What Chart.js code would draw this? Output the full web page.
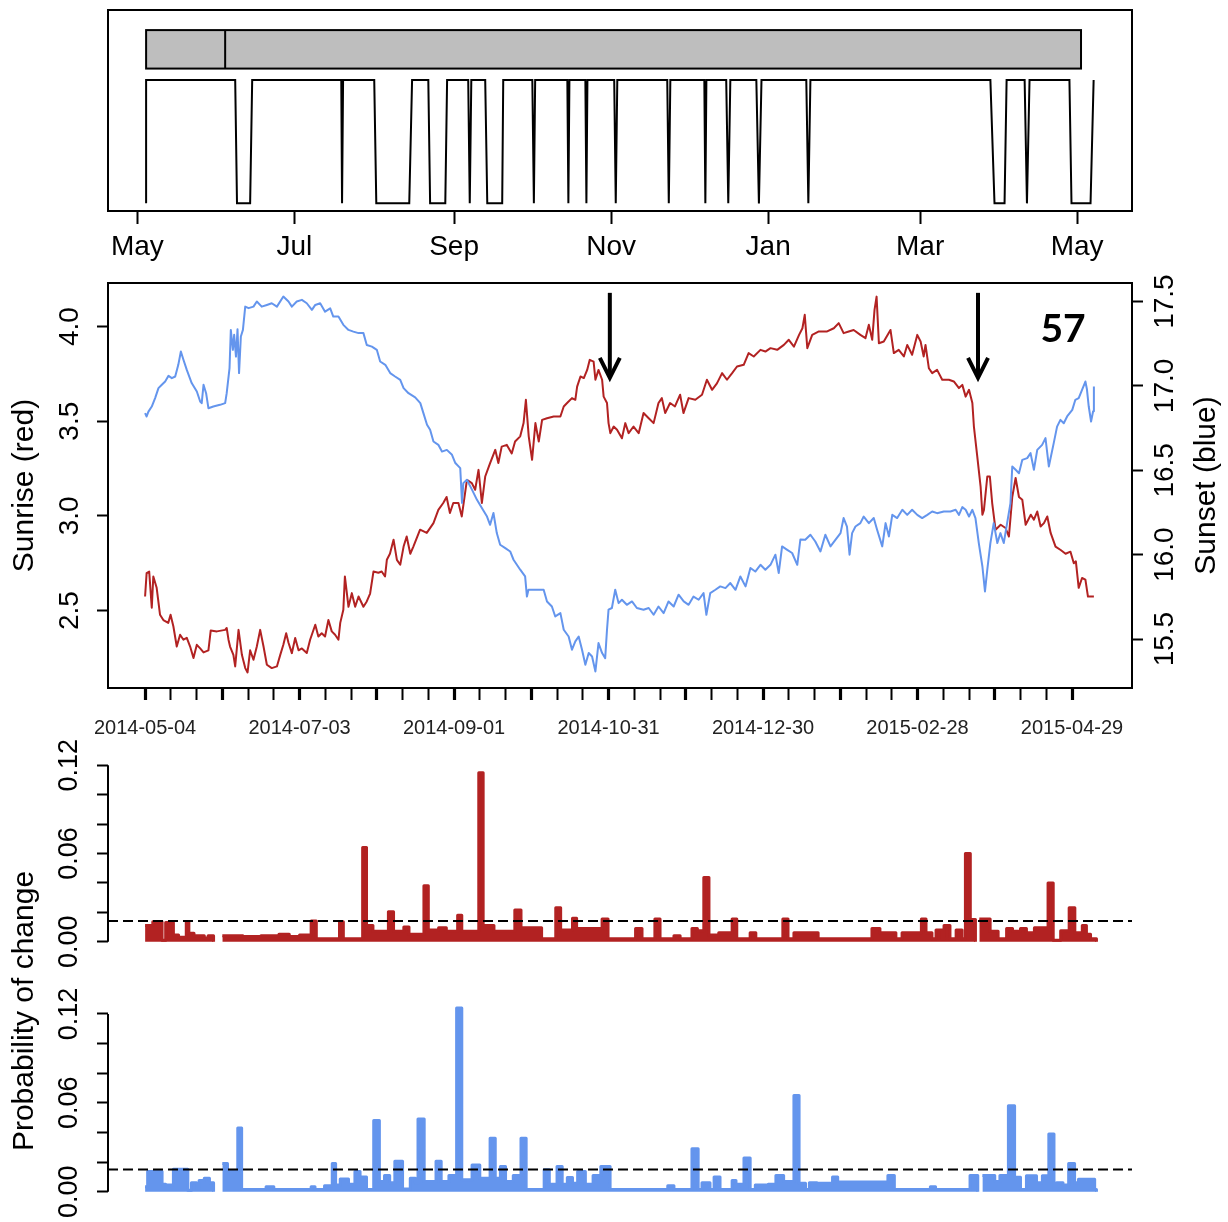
<!DOCTYPE html>
<html>
<head>
<meta charset="utf-8">
<script src="https://cdn.jsdelivr.net/npm/chart.js@4.4.1/dist/chart.umd.min.js"></script>
<style>
  html, body { margin: 0; padding: 0; background: #fff; }
  #wrap { position: relative; width: 1228px; height: 1222px; }
  #wrap canvas { position: absolute; left: 0; top: 0; }
</style>
</head>
<body>
<div id="wrap">
  <canvas id="activity" width="1228" height="1222"></canvas>
  <canvas id="sun" width="1228" height="1222"></canvas>
  <canvas id="probRed" width="1228" height="1222"></canvas>
  <canvas id="probBlue" width="1228" height="1222"></canvas>
</div>
<script>
// x values everywhere are days since 2014-05-04

// --- top panel: month axis + recording bar + on/off trace
const monthTickDays = [-3, 58, 120, 181, 242, 301, 362];
const monthTickLabels = ['May', 'Jul', 'Sep', 'Nov', 'Jan', 'Mar', 'May'];

const recordStart = 0.4, recordEnd = 363.5, recordSplit = 31.1;
const recordLow = 1.093, recordHigh = 1.405;

const activityDay = [0.4, 0.4, 35.0, 35.7, 40.8, 41.6, 76.2, 76.5, 76.9, 89.0,
  89.8, 102.6, 103.7, 110.0, 110.7, 116.6, 117.3, 125.5, 126.1, 126.7,
  132.1, 132.9, 138.7, 139.1, 150.4, 151.0, 151.5, 164.0, 164.4, 164.8,
  171.0, 171.4, 171.8, 182.2, 182.8, 183.4, 202.8, 203.4, 204.0, 217.2,
  217.6, 218.0, 225.7, 226.5, 227.3, 237.4, 238.4, 239.4, 256.8, 257.6,
  258.4, 328.3, 329.9, 333.8, 334.6, 341.6, 342.5, 343.5, 359.0, 359.8,
  367.2, 368.4];
const activityVal = [0, 1, 1, 0, 0, 1, 1, 0, 1, 1,
  0, 0, 1, 1, 0, 0, 1, 1, 0, 1,
  1, 0, 0, 1, 1, 0, 1, 1, 0, 1,
  1, 0, 1, 1, 0, 1, 1, 0, 1, 1,
  0, 1, 1, 0, 1, 1, 0, 1, 1, 0,
  1, 1, 0, 0, 1, 1, 0, 1, 1, 0,
  0, 1];

// --- middle panel: sunrise (left axis) and sunset (right axis)
const dateTickDays = [0, 60, 120, 180, 240, 300, 360];
const dateTickLabels = ['2014-05-04', '2014-07-03', '2014-09-01', '2014-10-31', '2014-12-30', '2015-02-28', '2015-04-29'];
const sunriseTicks = [2.5, 3.0, 3.5, 4.0];
const sunriseTickLabels = ['2.5', '3.0', '3.5', '4.0'];
const sunsetTicks = [15.5, 16.0, 16.5, 17.0, 17.5];
const sunsetTickLabels = ['15.5', '16.0', '16.5', '17.0', '17.5'];

const sunriseDay = [
  0, 0.6, 1.6, 2.6, 3.2, 4.5, 5.8, 7.1, 9, 9.9,
  11, 12.3, 13.6, 14.9, 16.2, 17.5, 18.8, 20.1, 21.4, 22.7,
  24.6, 25.5, 27.9, 31.1, 31.7, 32.4, 33, 34.3, 35, 36.3,
  37.6, 38.9, 39.8, 40.8, 42.1, 43.4, 44.7, 46, 47.3, 49.2,
  51.2, 52.5, 53.7, 54.8, 55.7, 57, 58.3, 59.6, 60.9, 62.8,
  64.1, 66.1, 67.3, 68.6, 69.9, 71.2, 72.5, 73.8, 75.1, 75.8,
  77, 77.6, 79, 80.3, 81.6, 82.9, 84.8, 86.1, 87.4, 88.7,
  90.6, 91.9, 93.2, 93.9, 95.1, 96.5, 97.8, 99.1, 100.4, 101.6,
  103, 104.2, 106.8, 109.4, 112, 113.9, 115.8, 117.1, 118.4, 119.7,
  121.7, 123, 125, 126.9, 128.2, 129.5, 130.8, 132.1, 134, 136,
  137.2, 138.5, 140.5, 142.4, 143.7, 145.7, 147, 147.9, 149, 150.3,
  151.6, 152.9, 154.2, 156.1, 158.7, 161.3, 162.6, 163.9, 165.8, 167.1,
  167.8, 169.1, 170.4, 171.7, 172.7, 174.2, 174.9, 176.1, 177.5, 178.1,
  179.4, 180, 180.7, 182, 183.3, 185.2, 186.5, 187.8, 189.7, 191.7,
  193.6, 195.6, 197.5, 199.4, 200.7, 202, 203.9, 205.8, 207.8, 209.1,
  211.1, 213.7, 216.3, 218.2, 220.2, 222.1, 224.1, 226, 228, 229.9,
  232.5, 234.4, 236.4, 239, 240.9, 242.9, 245.5, 248.1, 250, 252,
  254, 255.3, 256.2, 257.2, 259.1, 261.7, 264.9, 267.5, 269.4, 271.3,
  273.3, 275.2, 277.8, 279.8, 281.1, 282.4, 283.3, 284.1, 285, 286.9,
  289.5, 290.8, 292.7, 294.7, 296, 297.9, 299.9, 301.2, 302.4, 303.1,
  304.4, 305.7, 307.6, 309.6, 312.2, 314.1, 316.1, 317.4, 318.7, 320,
  321.3, 321.9, 323.2, 324.5, 325.2, 325.8, 327.1, 328.1, 329, 330.3,
  332.3, 334.2, 335.5, 336.8, 338.1, 339.4, 340.7, 342, 344, 345.2,
  346.5, 347.8, 349.1, 350.4, 351.7, 353.6, 355.6, 357.5, 359.4, 360.7,
  361.5, 362.6, 363.9, 365.2, 366.2, 368.5];
const sunriseVal = [
  2.574, 2.698, 2.706, 2.515, 2.68, 2.62, 2.478, 2.45, 2.435, 2.478,
  2.416, 2.31, 2.372, 2.346, 2.356, 2.31, 2.249, 2.319, 2.30, 2.279,
  2.29, 2.395, 2.39, 2.398, 2.408, 2.346, 2.31, 2.266, 2.205, 2.398,
  2.266, 2.196, 2.173, 2.29, 2.24, 2.31, 2.398, 2.31, 2.214, 2.196,
  2.205, 2.266, 2.319, 2.38, 2.33, 2.275, 2.355, 2.29, 2.30, 2.276,
  2.346, 2.425, 2.363, 2.38, 2.363, 2.45, 2.39, 2.372, 2.346, 2.435,
  2.504, 2.68, 2.52, 2.592, 2.52, 2.574, 2.52, 2.548, 2.59, 2.706,
  2.70, 2.706, 2.68, 2.768, 2.80, 2.874, 2.768, 2.742, 2.838, 2.891,
  2.80, 2.838, 2.927, 2.91, 2.962, 3.032, 3.068, 3.10, 3.015, 3.068,
  3.068, 2.997, 3.19, 3.173, 3.138, 3.243, 3.068, 3.208, 3.279, 3.349,
  3.279, 3.366, 3.375, 3.33, 3.393, 3.42, 3.49, 3.613, 3.42, 3.296,
  3.49, 3.393, 3.507, 3.516, 3.525, 3.525, 3.578, 3.596, 3.622, 3.613,
  3.683, 3.736, 3.728, 3.771, 3.824, 3.815, 3.719, 3.771, 3.719, 3.63,
  3.596, 3.49, 3.437, 3.472, 3.455, 3.41, 3.49, 3.437, 3.472, 3.437,
  3.543, 3.516, 3.49, 3.596, 3.622, 3.543, 3.596, 3.578, 3.64, 3.543,
  3.622, 3.613, 3.64, 3.719, 3.666, 3.70, 3.754, 3.719, 3.754, 3.789,
  3.798, 3.86, 3.842, 3.877, 3.868, 3.886, 3.877, 3.903, 3.93, 3.894,
  3.956, 3.991, 4.062, 3.886, 3.956, 3.974, 3.974, 3.991, 4.018, 3.965,
  3.974, 3.982, 3.956, 3.939, 4.009, 3.93, 4.088, 4.158, 3.912, 3.921,
  3.982, 3.86, 3.877, 3.842, 3.903, 3.851, 3.956, 3.921, 3.842, 3.903,
  3.78, 3.754, 3.771, 3.719, 3.719, 3.71, 3.675, 3.692, 3.63, 3.666,
  3.596, 3.472, 3.314, 3.155, 3.006, 3.032, 3.208, 3.208, 3.068, 2.927,
  2.953, 2.936, 2.891, 3.10, 3.20, 3.10, 3.085, 2.953, 3.006, 2.98,
  3.023, 2.944, 2.962, 2.997, 2.91, 2.838, 2.82, 2.80, 2.811, 2.75,
  2.76, 2.62, 2.672, 2.663, 2.574, 2.574];

const sunsetDay = [
  0, 0.6, 1.3, 2.6, 3.9, 5.2, 6.5, 7.8, 9.1, 10.4,
  11.7, 12.9, 13.9, 14.9, 16.2, 18.1, 20.1, 21.4, 22, 22.7,
  23.7, 24.6, 26.5, 29.1, 31.1, 31.7, 32.8, 33.3, 34.1, 34.6,
  35.3, 35.9, 36.5, 37.2, 38, 38.9, 40.2, 42.1, 43.4, 45.3,
  47.3, 49.2, 51.2, 53.7, 55.7, 57, 58.9, 60.9, 62.8, 64.8,
  66.1, 68, 69.9, 71.9, 73.1, 75.1, 77, 79, 80.9, 82.9,
  84.8, 86.1, 88.1, 90, 91.3, 93.3, 95.2, 97.1, 99.1, 100.4,
  102.3, 104.9, 106.9, 108.1, 109.5, 110.7, 112, 113.9, 115.3, 117.2,
  119.2, 120.5, 122.4, 123.1, 123.6, 125, 127, 128.9, 130.8, 132.8,
  134, 135.3, 136.6, 137.9, 139.9, 141.8, 143.1, 145.7, 147.6, 148.3,
  148.9, 150.9, 154.8, 156.1, 158, 159.3, 161.3, 162.6, 164.5, 165.8,
  167.1, 168.4, 169.7, 171, 172.3, 173.6, 174.9, 176.1, 177.5, 178.7,
  179.4, 180, 181.3, 182.6, 183.9, 185.2, 187.1, 189.1, 191, 193.6,
  195.6, 197.5, 199.4, 201.4, 203.3, 205.3, 207.2, 209.2, 211.1, 213,
  215, 216.9, 218, 219.5, 221.5, 223.4, 225.4, 227.3, 229.3, 231.2,
  233.2, 235.1, 237, 239, 240.9, 242.9, 244.8, 246.1, 247.4, 249.4,
  251.3, 253.3, 254.5, 256.4, 258.4, 260.3, 262.3, 264.2, 266.2, 268.1,
  270.1, 271.3, 272.6, 273.6, 274.6, 275.9, 277.8, 279.1, 281.1, 283,
  284.3, 286.3, 287.6, 288.9, 290.2, 292.1, 294.1, 296, 297.9, 299.9,
  301.8, 303.8, 305.7, 307.6, 310.2, 312.8, 314.8, 316.1, 317.4, 318.7,
  320, 321.3, 322.5, 323.8, 325.2, 326.2, 327.1, 328.3, 329.6, 331,
  332.2, 333.5, 334.8, 336.1, 336.8, 338.1, 339.4, 340.7, 342.6, 343.9,
  345.2, 346.5, 348.4, 349.7, 351, 352.9, 354.2, 355.5, 356.8, 358.1,
  360.1, 361.3, 362.6, 363.9, 365.2, 365.8, 366.5, 367.4, 368.2, 368.5];
const sunsetVal = [
  16.839, 16.819, 16.848, 16.878, 16.928, 16.987, 17.007, 17.026, 17.06, 17.046,
  17.056, 17.125, 17.204, 17.155, 17.095, 17.017, 16.967, 16.908, 16.898, 17.007,
  16.957, 16.868, 16.878, 16.888, 16.898, 16.957, 17.105, 17.332, 17.214, 17.303,
  17.174, 17.336, 17.076, 17.293, 17.332, 17.47, 17.461, 17.47, 17.50, 17.47,
  17.48, 17.49, 17.47, 17.53, 17.50, 17.47, 17.50, 17.51, 17.49, 17.451,
  17.48, 17.49, 17.44, 17.46, 17.411, 17.411, 17.362, 17.332, 17.322, 17.313,
  17.313, 17.243, 17.233, 17.214, 17.145, 17.125, 17.076, 17.056, 17.036, 16.987,
  16.957, 16.932, 16.898, 16.839, 16.77, 16.74, 16.671, 16.651, 16.611, 16.621,
  16.592, 16.543, 16.513, 16.306, 16.424, 16.444, 16.384, 16.325, 16.276, 16.226,
  16.177, 16.247, 16.128, 16.059, 16.039, 16.019, 15.97, 15.911, 15.871, 15.752,
  15.792, 15.792, 15.792, 15.723, 15.693, 15.634, 15.654, 15.555, 15.515, 15.437,
  15.486, 15.515, 15.437, 15.348, 15.417, 15.397, 15.308, 15.476, 15.417, 15.387,
  15.555, 15.674, 15.684, 15.792, 15.713, 15.733, 15.703, 15.723, 15.684, 15.674,
  15.684, 15.644, 15.693, 15.654, 15.723, 15.693, 15.763, 15.723, 15.703, 15.752,
  15.733, 15.772, 15.644, 15.772, 15.792, 15.812, 15.802, 15.832, 15.792, 15.871,
  15.812, 15.921, 15.90, 15.94, 15.911, 15.94, 16.0, 15.891, 16.049, 16.029,
  16.01, 15.94, 16.09, 16.088, 16.118, 16.078, 16.019, 16.118, 16.049, 16.088,
  16.128, 16.217, 16.167, 16.0, 16.128, 16.167, 16.187, 16.226, 16.187, 16.217,
  16.148, 16.049, 16.187, 16.108, 16.236, 16.217, 16.266, 16.236, 16.266, 16.236,
  16.217, 16.236, 16.256, 16.246, 16.256, 16.256, 16.266, 16.236, 16.282, 16.266,
  16.226, 16.266, 16.217, 16.069, 15.93, 15.782, 15.911, 16.069, 16.187, 16.069,
  16.128, 16.069, 16.187, 16.306, 16.523, 16.503, 16.483, 16.562, 16.572, 16.602,
  16.503, 16.621, 16.651, 16.691, 16.523, 16.661, 16.759, 16.799, 16.779, 16.819,
  16.858, 16.918, 16.928, 16.977, 17.026, 16.98, 16.878, 16.789, 16.85, 16.996];

const arrowDays = [180.5, 323.5];
const arrowFrom = 4.178, arrowTo = 3.729;   // sunrise units
const panelLabel = '57';
const panelLabelDay = 356.5, panelLabelAt = 3.983;

// --- bottom panels: probability of change (value holds from its day to the next day)
const probTicks = [0, 0.02, 0.04, 0.06, 0.08, 0.10, 0.12];
const probTickLabels = ['0.00', '', '', '0.06', '', '', '0.12'];
const redThreshold = 0.014;
const blueThreshold = 0.015;

const redProbDay = [0, 3, 6.6, 8, 11, 13, 16, 17, 19, 23,
  24.5, 26.6, 28, 30, 38, 45, 52, 56, 60, 64.5,
  66.5, 75.5, 77, 84.5, 86, 88.5, 94.5, 96.5, 100.5, 102.5,
  108.3, 110, 114, 117, 121.4, 123, 129.6, 131.3, 135.5, 143.6,
  146, 154, 159.5, 161.4, 166, 167.6, 177.5, 179.8, 190.5, 193,
  198, 200, 205.4, 207.8, 212.4, 214.5, 217, 219, 222.8, 228,
  229.8, 235, 237.2, 247.7, 249.7, 252, 261.4, 282.3, 285.4, 291.6,
  294, 301.5, 303.3, 305.6, 307.2, 309.5, 310.3, 312.6, 315, 317.3,
  318.6, 320.5, 322.5, 323, 324, 328.2, 331.3, 334.6, 336.9, 340,
  342.3, 345.4, 350.7, 352.7, 355.6, 358.9, 361.1, 364, 365.6, 367.2,
  369.5];
const redProbVal = [0.011, 0.0136, 0.001, 0.013, 0.0045, 0.003, 0.0136, 0.0057, 0.004, 0.0025,
  0.004, 0, null, 0.004, 0.0035, 0.004, 0.005, 0.0035, 0.0045, 0.014,
  0.002, 0.0136, 0.002, 0.064, 0.011, 0.007, 0.0204, 0.007, 0.01, 0.005,
  0.038, 0.008, 0.0095, 0.007, 0.018, 0.007, 0.115, 0.011, 0.007, 0.0216,
  0.0095, 0.002, 0.023, 0.008, 0.016, 0.009, 0.0155, 0.002, 0.009, 0.002,
  0.0155, 0.002, 0.004, 0.002, 0.009, 0.0075, 0.0436, 0.0045, 0.006, 0.0155,
  0.002, 0.006, 0.002, 0.0155, 0.002, 0.006, 0.002, 0.009, 0.006, 0.002,
  0.006, 0.0155, 0.006, 0.002, 0.008, 0.002, 0.011, 0.002, 0.008, 0.002,
  0.060, 0.015, 0, null, 0.0155, 0.007, 0.002, 0.009, 0.007, 0.009,
  0.006, 0.0095, 0.040, 0.001, 0.0075, 0.023, 0.006, 0.011, 0.005, 0.002,
  0];

const blueProbDay = [0, 1, 6.6, 8, 11, 16.6, 18, 20, 21, 23,
  25, 26.6, 28, 30, 32, 36, 37.5, 47, 50, 64.5,
  66, 69.7, 72.7, 74, 75.8, 79, 81.5, 83.5, 86, 88.8,
  91, 93, 95, 97, 100, 103, 105, 106, 108.4, 113,
  115, 118, 121, 123, 127, 130, 134, 136, 138, 140,
  143, 146, 148, 155, 157, 160, 162, 164, 166, 168,
  171, 174, 177, 180.6, 203, 205.4, 212.4, 214.8, 216.3, 219.4,
  221, 223.3, 228, 229.5, 232.6, 235, 237, 242, 245, 248,
  252, 254, 256.5, 258, 261, 267, 269, 288.5, 291, 305,
  307, 320.4, 323.4, 324.3, 325.2, 330, 332, 335.3, 337.7, 340,
  342.3, 346.2, 348.5, 351, 353, 354, 356.5, 358.7, 361, 362.5,
  368.8, 369.5];
const blueProbVal = [0.0034, 0.0136, 0.005, 0.0045, 0.0152, 0.001, 0.006, 0.002, 0.0075, 0.009,
  0.006, 0, null, 0.019, 0.0136, 0.043, 0.0015, 0.0034, 0.0015, 0.0034,
  0.0015, 0.004, 0.019, 0.0045, 0.0086, 0.005, 0.0136, 0.010, 0.0015, 0.048,
  0.0068, 0.011, 0.006, 0.0205, 0.0018, 0.009, 0.006, 0.049, 0.0068, 0.0205,
  0.0068, 0.011, 0.124, 0.008, 0.018, 0.009, 0.036, 0.009, 0.017, 0.0068,
  0.011, 0.036, 0.0015, 0.0148, 0.005, 0.017, 0.005, 0.0095, 0.0057, 0.0136,
  0.005, 0.011, 0.017, 0.0015, 0.004, 0.0015, 0.029, 0.0015, 0.006, 0.0015,
  0.010, 0.0015, 0.0075, 0.005, 0.0227, 0.0015, 0.0045, 0.005, 0.011, 0.0068,
  0.065, 0.0057, 0.0015, 0.006, 0.0057, 0.010, 0.0066, 0.011, 0.0015, 0.0034,
  0.0015, 0.011, 0, null, 0.011, 0.0068, 0.011, 0.058, 0.0098, 0.0015,
  0.0107, 0.006, 0.0107, 0.039, 0.0015, 0.006, 0.0045, 0.019, 0.006, 0.0084,
  0.0015, 0];

const RED = '#B22222';
const BLUE = '#6495ED';
const FONT = "'Liberation Sans', Arial, Helvetica, sans-serif";
const X_MIN = -14.4, X_MAX = 383.3;

Chart.defaults.font.family = FONT;
Chart.defaults.color = '#000';
Chart.defaults.animation = false;
Chart.defaults.plugins.legend.display = false;
Chart.defaults.plugins.tooltip.enabled = false;

function pts(xs, ys) {
  return xs.map((x, i) => ({ x, y: ys[i] }));
}
function setTicks(values) {
  return scale => { scale.ticks = values.map(v => ({ value: v })); };
}
function fixWidth(w) { return scale => { scale.width = w; }; }
function fixHeight(h) { return scale => { scale.height = h; }; }

function rotText(ctx, text, x, y, size, weight) {
  ctx.save();
  ctx.translate(x, y);
  ctx.rotate(-Math.PI / 2);
  ctx.font = (weight || 'normal') + ' ' + size + 'px ' + FONT;
  ctx.fillStyle = '#000';
  ctx.textAlign = 'center';
  ctx.textBaseline = 'middle';
  ctx.fillText(text, 0, 0);
  ctx.restore();
}

function strokeBox(chart) {
  const { ctx, chartArea: a } = chart;
  ctx.save();
  ctx.strokeStyle = '#000';
  ctx.lineWidth = 2;
  ctx.strokeRect(a.left, a.top, a.right - a.left, a.bottom - a.top);
  ctx.restore();
}

const tickGrid = (len) => ({ drawOnChartArea: false, tickLength: len, tickWidth: 2, tickColor: '#000' });

// ---------- panel 1
new Chart(document.getElementById('activity'), {
  type: 'line',
  data: {
    datasets: [{
      data: pts(activityDay, activityVal),
      borderColor: '#000', borderWidth: 2, pointRadius: 0, tension: 0
    }]
  },
  options: {
    responsive: false,
    layout: { padding: { left: 108, right: 96, top: 10, bottom: 951 } },
    scales: {
      x: {
        type: 'linear', min: X_MIN, max: X_MAX,
        afterBuildTicks: setTicks(monthTickDays),
        afterFit: fixHeight(60),
        grid: tickGrid(13),
        border: { display: false },
        ticks: {
          autoSkip: false, maxRotation: 0, padding: 6, color: '#000',
          font: { size: 28 },
          callback: (v, i) => monthTickLabels[i]
        }
      },
      y: { type: 'linear', display: false, min: -0.062, max: 1.568 }
    }
  },
  plugins: [{
    id: 'recordBar',
    beforeDatasetsDraw(chart) {
      const { ctx, scales: { x, y } } = chart;
      const x0 = x.getPixelForValue(recordStart), x1 = x.getPixelForValue(recordEnd);
      const y0 = y.getPixelForValue(recordHigh), y1 = y.getPixelForValue(recordLow);
      const xs = x.getPixelForValue(recordSplit);
      ctx.save();
      ctx.fillStyle = '#bebebe';
      ctx.fillRect(x0, y0, x1 - x0, y1 - y0);
      ctx.strokeStyle = '#000';
      ctx.lineWidth = 2;
      ctx.strokeRect(x0, y0, x1 - x0, y1 - y0);
      ctx.beginPath();
      ctx.moveTo(xs, y0);
      ctx.lineTo(xs, y1);
      ctx.stroke();
      ctx.restore();
    },
    afterDraw: strokeBox
  }]
});

// ---------- panel 2
const dayTicks = [];
for (let d = 0; d <= 360; d += 10) dayTicks.push(d);

new Chart(document.getElementById('sun'), {
  type: 'line',
  data: {
    datasets: [
      { data: pts(sunsetDay, sunsetVal), yAxisID: 'y2', borderColor: BLUE, borderWidth: 2,
        pointRadius: 0, tension: 0, borderJoinStyle: 'round' },
      { data: pts(sunriseDay, sunriseVal), yAxisID: 'y', borderColor: RED, borderWidth: 2,
        pointRadius: 0, tension: 0, borderJoinStyle: 'round' }
    ]
  },
  options: {
    responsive: false,
    layout: { padding: { left: 68, right: 56, top: 283, bottom: 474 } },
    scales: {
      x: {
        type: 'linear', min: X_MIN, max: X_MAX,
        afterBuildTicks: setTicks(dayTicks),
        afterFit: fixHeight(60),
        grid: {
          drawOnChartArea: false, tickLength: 12, tickColor: '#000',
          tickWidth: c => (c.tick && c.tick.value % 30 === 0 ? 3.2 : 2)
        },
        border: { display: false },
        ticks: {
          autoSkip: false, maxRotation: 0, padding: 16, color: '#222',
          font: { size: 20 },
          callback: v => {
            const k = dateTickDays.indexOf(v);
            return k < 0 ? '' : dateTickLabels[k];
          }
        }
      },
      y: {
        type: 'linear', position: 'left', min: 2.091, max: 4.23,
        afterBuildTicks: setTicks(sunriseTicks),
        afterFit: fixWidth(40),
        grid: tickGrid(11),
        border: { display: false },
        ticks: { display: false }
      },
      y2: {
        type: 'linear', position: 'right', min: 15.21, max: 17.61,
        afterBuildTicks: setTicks(sunsetTicks),
        afterFit: fixWidth(40),
        grid: tickGrid(11),
        border: { display: false },
        ticks: { display: false }
      }
    }
  },
  plugins: [{
    id: 'sunDecor',
    afterDraw(chart) {
      const { ctx, chartArea: a, scales: { x, y, y2 } } = chart;
      strokeBox(chart);

      ctx.save();
      ctx.strokeStyle = '#000';
      ctx.lineWidth = 4;
      ctx.lineJoin = 'miter';
      arrowDays.forEach(d => {
        const px = x.getPixelForValue(d);
        const top = y.getPixelForValue(arrowFrom), tip = y.getPixelForValue(arrowTo);
        ctx.beginPath();
        ctx.moveTo(px, top);
        ctx.lineTo(px, tip - 2);
        ctx.stroke();
        ctx.beginPath();
        ctx.moveTo(px - 10, tip - 20);
        ctx.lineTo(px, tip);
        ctx.lineTo(px + 10, tip - 20);
        ctx.stroke();
      });
      ctx.font = "bold 39px Lato, 'Open Sans', sans-serif";
      ctx.fillStyle = '#000';
      ctx.textAlign = 'center';
      ctx.textBaseline = 'middle';
      ctx.fillText(panelLabel, x.getPixelForValue(panelLabelDay), y.getPixelForValue(panelLabelAt));
      ctx.restore();

      sunriseTicks.forEach((v, i) => rotText(ctx, sunriseTickLabels[i], a.left - 38, y.getPixelForValue(v), 28));
      sunsetTicks.forEach((v, i) => rotText(ctx, sunsetTickLabels[i], a.right + 33, y2.getPixelForValue(v), 28));
      const mid = (a.top + a.bottom) / 2;
      rotText(ctx, 'Sunrise (red)', 25, mid, 30);
      rotText(ctx, 'Sunset (blue)', 1207, mid, 30);
    }
  }]
});

// ---------- panels 3 and 4
function probChart(id, days, vals, color, threshold, yMax, padTop, padBottom, withTitle) {
  return new Chart(document.getElementById(id), {
    type: 'line',
    data: {
      datasets: [
        { data: [{ x: X_MIN, y: threshold }, { x: X_MAX, y: threshold }],
          borderColor: '#000', borderWidth: 2, borderDash: [10, 5], pointRadius: 0, fill: false },
        { data: pts(days, vals), stepped: true, fill: 'origin', spanGaps: false,
          borderColor: color, backgroundColor: color, borderWidth: 3, pointRadius: 0,
          borderJoinStyle: 'round' }
      ]
    },
    options: {
      responsive: false,
      layout: { padding: { left: 68, right: 96, top: padTop, bottom: padBottom } },
      scales: {
        x: { type: 'linear', display: false, min: X_MIN, max: X_MAX },
        y: {
          type: 'linear', position: 'left', min: -0.005, max: yMax,
          afterBuildTicks: setTicks(probTicks),
          afterFit: fixWidth(40),
          grid: tickGrid(11),
          border: { display: false },
          ticks: { display: false }
        }
      }
    },
    plugins: [{
      id: 'probAxis',
      afterDraw(chart) {
        const { ctx, chartArea: a, scales: { y } } = chart;
        ctx.save();
        ctx.strokeStyle = '#000';
        ctx.lineWidth = 2;
        ctx.beginPath();
        ctx.moveTo(a.left, y.getPixelForValue(probTicks[0]));
        ctx.lineTo(a.left, y.getPixelForValue(probTicks[probTicks.length - 1]));
        ctx.stroke();
        ctx.restore();
        probTicks.forEach((v, i) => {
          if (probTickLabels[i]) rotText(ctx, probTickLabels[i], a.left - 38, y.getPixelForValue(v), 27);
        });
        if (withTitle) rotText(ctx, 'Probability of change', 25, 1011, 30);
      }
    }]
  });
}

probChart('probRed', redProbDay, redProbVal, RED, redThreshold, 0.1205, 764.6, 273, false);
probChart('probBlue', blueProbDay, blueProbVal, BLUE, blueThreshold, 0.128, 1002.1, 22.9, true);
</script>
</body>
</html>
